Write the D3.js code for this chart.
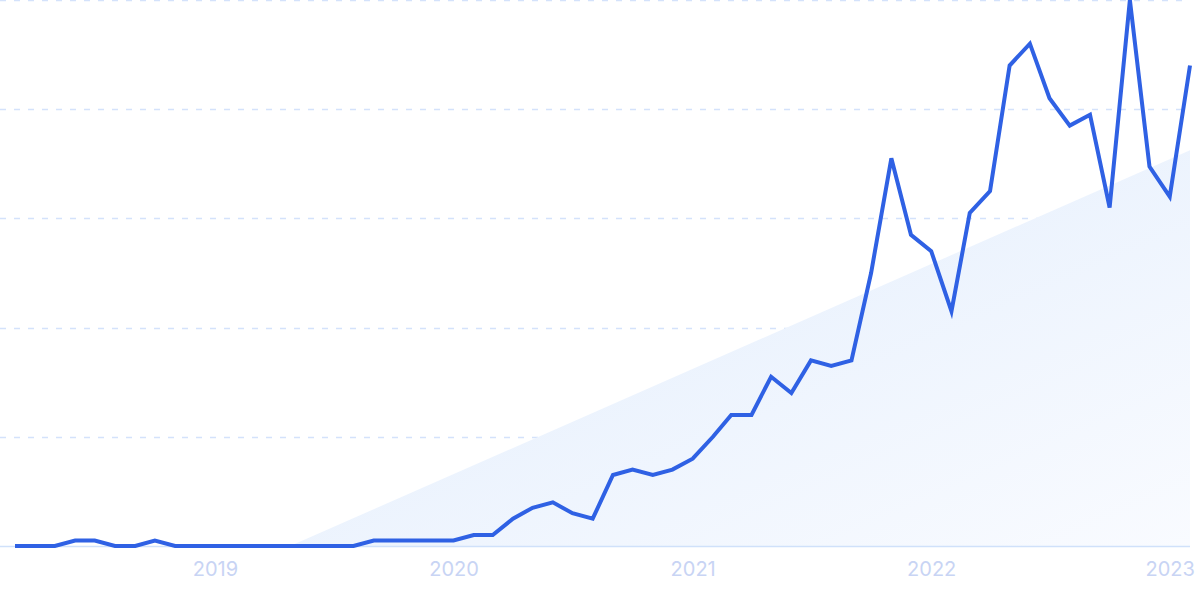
<!DOCTYPE html>
<html>
<head>
<meta charset="utf-8">
<script src="https://cdn.jsdelivr.net/npm/d3@7/dist/d3.min.js"></script>
<style>
  html, body { margin: 0; padding: 0; background: #ffffff; }
  svg { display: block; }
</style>
</head>
<body>
<svg id="chart" width="1200" height="599"></svg>
<script>
// Monthly series, Mar 2018 .. Feb 2023
const startMonth = "2018-03-01";
const values = [
  0, 0, 0, 1, 1, 0, 0, 1, 0, 0,
  0, 0, 0, 0, 0, 0, 0, 0, 1, 1,
  1, 1, 1, 2, 2, 5, 7, 8, 6, 5,
  13, 14, 13, 14, 16, 20, 24, 24, 31, 28,
  34, 33, 34, 50, 71, 57, 54, 43, 61, 65,
  88, 92, 82, 77, 79, 62, 100, 69.5, 64, 88
];
const trendDates = ["2019-04-26", "2023-02-01"];
const trendValues = [0, 72.5];
const yTicks = [20, 40, 60, 80, 100];
const xTickLabels = ["2019", "2020", "2021", "2022", "2023"];

const parse = d3.timeParse("%Y-%m-%d");
const t0 = parse(startMonth);
const data = values.map((v, i) => ({ date: d3.timeMonth.offset(t0, i), value: v }));
const trend = trendDates.map((d, i) => ({ date: parse(d), value: trendValues[i] }));

const svg = d3.select("#chart");
const x = d3.scaleTime()
  .domain([data[0].date, data[data.length - 1].date])
  .range([15, 1190]);
const y = d3.scaleLinear().domain([0, 100]).range([546, 0]);

// gradient for the trend area
const defs = svg.append("defs");
const grad = defs.append("linearGradient")
  .attr("id", "trendGrad")
  .attr("x1", "0").attr("y1", "0").attr("x2", "1").attr("y2", "1");
grad.append("stop").attr("offset", "0%").attr("stop-color", "#e0ecfc");
grad.append("stop").attr("offset", "100%").attr("stop-color", "#f9fbff");

// gridlines
svg.append("g").selectAll("line")
  .data(yTicks)
  .join("line")
  .attr("x1", 0).attr("x2", 1190)
  .attr("y1", d => Math.round(y(d)) + 0.5)
  .attr("y2", d => Math.round(y(d)) + 0.5)
  .attr("stroke", "#d4e2fb")
  .attr("stroke-width", 1.5)
  .attr("stroke-dasharray", "6 8");

// trend area
const area = d3.area()
  .x(d => x(d.date))
  .y0(y(0))
  .y1(d => y(d.value));
svg.append("path")
  .datum(trend)
  .attr("d", area)
  .attr("fill", "url(#trendGrad)");

// baseline axis
const xAxis = d3.axisBottom(x)
  .tickValues(xTickLabels.map(s => parse(s + "-01-01")))
  .tickFormat(d3.timeFormat("%Y"))
  .tickSize(0)
  .tickPadding(16);
const gx = svg.append("g")
  .attr("transform", `translate(0,${y(0)})`)
  .call(xAxis);
gx.select(".domain")
  .attr("d", `M0,0.5H1190`)
  .attr("stroke", "#d0e1fa")
  .attr("stroke-width", 1.5);
gx.selectAll("text")
  .attr("fill", "#c8d4f4")
  .attr("font-family", "Inter, 'Noto Sans', sans-serif")
  .attr("font-size", 20);

// main line
const line = d3.line()
  .x(d => x(d.date))
  .y(d => y(d.value));
svg.append("path")
  .datum(data)
  .attr("d", line)
  .attr("fill", "none")
  .attr("stroke", "#2f61e4")
  .attr("stroke-width", 4)
  .attr("stroke-linejoin", "miter")
  .attr("stroke-linecap", "butt");
</script>
</body>
</html>
